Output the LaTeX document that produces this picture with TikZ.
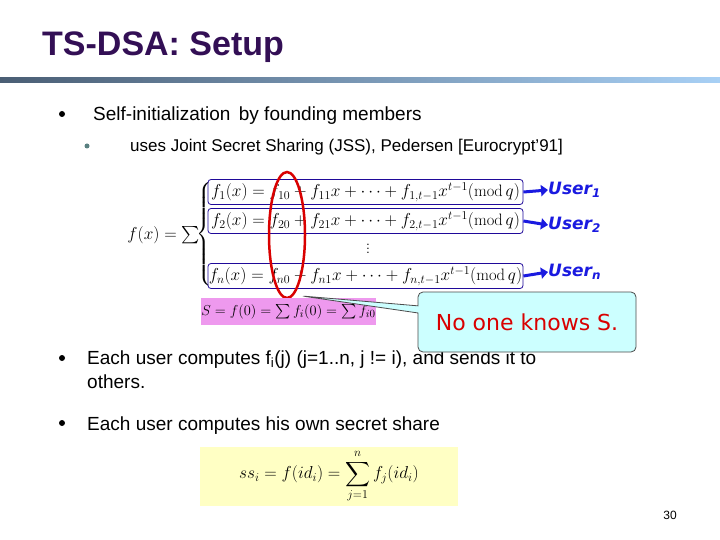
\documentclass[tikz,border=0pt]{standalone}
\usepackage{amsmath}
\usepackage{fontspec}
\setmainfont{Liberation Sans}
\setmathrm{Latin Modern Roman}
\newfontfamily\comicf{DejaVu Sans}
\usetikzlibrary{shapes.callouts,shapes.geometric,arrows.meta}
\definecolor{titlec}{HTML}{330F55}
\definecolor{barL}{HTML}{4A5E74}
\definecolor{barR}{HTML}{A8D0F5}
\definecolor{userb}{HTML}{1A1AE0}
\definecolor{pinkf}{HTML}{EE99EE}
\definecolor{cyanf}{HTML}{CCFFFF}
\definecolor{yelf}{HTML}{FFFFC4}
\tikzset{
 body/.style={anchor=base west,font=\fontsize{19}{22}\selectfont,inner sep=0},
 sub/.style={anchor=base west,font=\fontsize{17}{20}\selectfont,inner sep=0},
 row/.style={draw=titlec!60!blue,rounded corners=3pt,line width=0.8pt,minimum width=315pt,minimum height=25pt,inner sep=0,font=\fontsize{16.5}{18}\selectfont},
 userl/.style={anchor=west,text=userb,font=\comicf\itshape\bfseries\fontsize{17}{20}\selectfont,inner sep=0},
 uarrow/.style={draw=userb,line width=3pt,-{Triangle[length=7pt,width=11pt]}},
}
\begin{document}
\begin{tikzpicture}[x=1pt,y=-1pt]
\useasboundingbox (0,0) rectangle (720,540);
\fill[white] (0,0) rectangle (720,540);
\node[anchor=base west,inner sep=0,text=titlec,font=\bfseries\fontsize{34}{40}\selectfont] (title) at (42,56) {TS-DSA: Setup};
\shade[left color=barL,right color=barR] (0,78) rectangle (720,83);
\node[circle,fill=black,inner sep=0,minimum size=6pt] (b1) at (62,114) {};
\node[body] (t1) at (93,121) {Self-initialization\, by founding members};
\node[circle,fill=gray!70!teal,inner sep=0,minimum size=5pt] (b2) at (87,146) {};
\node[sub] (t2) at (130,152) {uses Joint Secret Sharing (JSS), Pedersen [Eurocrypt’91]};
\node[anchor=east,inner sep=0,font=\fontsize{18}{20}\selectfont] (fx) at (200,235) {$f(x)=\sum$};
\node[inner sep=0,font=\fontsize{17}{20}\selectfont] (br) at (205,234) {$\left\{\vphantom{\rule{0pt}{55pt}}\right.$};
\node[row] (r1) at (365.5,192) {$f_1(x)=f_{10}+f_{11}x+\cdots+f_{1,t-1}x^{t-1}(\mathrm{mod}\,q)$};
\node[row] (r2) at (365.5,221) {$f_2(x)=f_{20}+f_{21}x+\cdots+f_{2,t-1}x^{t-1}(\mathrm{mod}\,q)$};
\node[inner sep=0,font=\fontsize{12}{14}\selectfont] (vd) at (368,246) {$\vdots$};
\node[row] (rn) at (365.5,276) {$f_n(x)=f_{n0}+f_{n1}x+\cdots+f_{n,t-1}x^{t-1}(\mathrm{mod}\,q)$};
\node[userl] (u1) at (548,190) {User\textsubscript{1}};
\node[userl] (u2) at (548,225) {User\textsubscript{2}};
\node[userl] (un) at (548,272) {User\textsubscript{n}};
\draw[uarrow] (r1.east) -- (u1.west);
\draw[uarrow] (r2.east) -- (u2.west);
\draw[uarrow] (rn.east) -- (un.west);
\node[draw=red!85!black,line width=2.5pt,ellipse,minimum width=36pt,minimum height=126pt,inner sep=0] (ell) at (287,235) {};
\node[fill=pinkf,minimum width=167pt,minimum height=27pt,inner sep=0,font=\fontsize{15.5}{18}\selectfont] (S) at (288.5,311.5) {$S=f(0)=\sum f_i(0)=\sum f_{i0}$};
\node[circle,fill=black,inner sep=0,minimum size=6pt] (b3) at (62,358) {};
\node[body] (t3) at (87,364) {Each user computes f\textsubscript{i}(j) (j=1..n, j != i), and sends it to};
\node[body] (t3b) at (87,388) {others.};
\node[circle,fill=black,inner sep=0,minimum size=6pt] (b4) at (62,423) {};
\node[body] (t4) at (87,430) {Each user computes his own secret share};
\node[rectangle callout,rounded corners=5pt,draw=gray!60!black,fill=cyanf,line width=0.8pt,minimum width=218pt,minimum height=60pt,inner sep=0,callout absolute pointer={(302,296)},text=red!85!black,font=\comicf\fontsize{22}{26}\selectfont,text depth=0pt] (co) at (527,322) {No one knows S.};
\node[fill=yelf,minimum width=258pt,minimum height=59pt,inner sep=0,font=\fontsize{17}{20}\selectfont] (ss) at (329,476.5) {$ss_i=f(id_i)=\displaystyle\sum_{j=1}^{n} f_j(id_i)$};
\node[inner sep=0,font=\fontsize{12}{14}\selectfont] (pg) at (670,515) {30};
\end{tikzpicture}
\end{document}
